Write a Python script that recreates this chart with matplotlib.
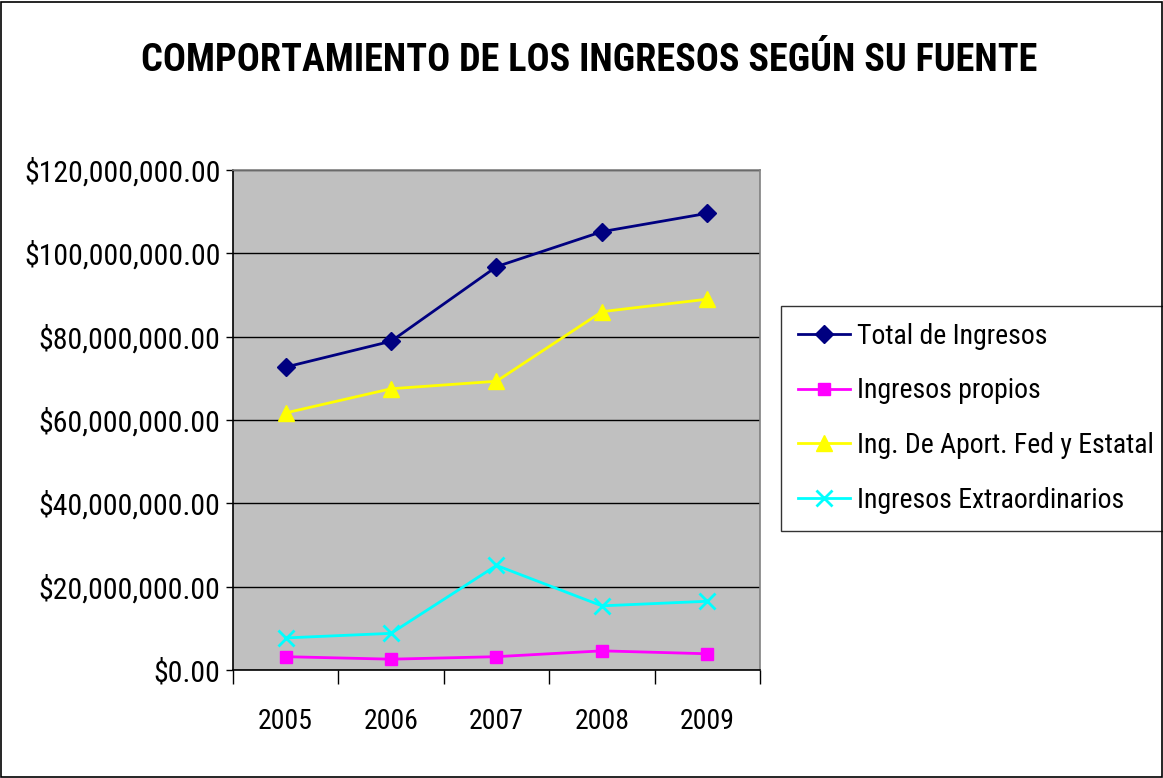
import matplotlib
matplotlib.use('Agg')
import matplotlib.pyplot as plt
from matplotlib.ticker import FuncFormatter, FixedLocator
from matplotlib.patches import Rectangle

years = ['2005', '2006', '2007', '2008', '2009']
total_ingresos = [72.7e6, 78.9e6, 96.8e6, 105.2e6, 109.6e6]
ingresos_propios = [3.2e6, 2.6e6, 3.2e6, 4.6e6, 3.9e6]
aport_fed_estatal = [61.7e6, 67.5e6, 69.3e6, 86.0e6, 89.0e6]
ingresos_extra = [7.7e6, 8.8e6, 25.1e6, 15.4e6, 16.5e6]

labels = ['Total de Ingresos', 'Ingresos propios',
          'Ing. De Aport. Fed y Estatal', 'Ingresos Extraordinarios']

# narrow face, close to the Arial Narrow of the original
plt.rcParams['font.family'] = ['Roboto Condensed', 'DejaVu Sans']

fig = plt.figure(figsize=(11.63, 7.78), dpi=100)
fig.patches.append(Rectangle((0.001, 0.001), 0.998, 0.997, transform=fig.transFigure,
                             fill=False, edgecolor='black', linewidth=1.2))

ax = fig.add_axes([0.2003, 0.1388, 0.4532, 0.6427])
ax.set_facecolor('#C0C0C0')

x = list(range(len(years)))
ax.plot(x, total_ingresos, color='#000080', marker='D', markersize=9, linewidth=2, label=labels[0])
ax.plot(x, ingresos_propios, color='#FF00FF', marker='s', markersize=9, linewidth=2, label=labels[1])
ax.plot(x, aport_fed_estatal, color='#FFFF00', marker='^', markersize=11, linewidth=2, label=labels[2])
ax.plot(x, ingresos_extra, color='#00FFFF', marker='x', markersize=11, markeredgewidth=2,
        linewidth=2, label=labels[3])

ax.set_xlim(-0.5, 4.5)
ax.set_ylim(0, 120e6)
ax.set_yticks([0, 20e6, 40e6, 60e6, 80e6, 100e6, 120e6])
ax.yaxis.set_major_formatter(FuncFormatter(lambda v, p: '${:,.2f}'.format(v)))
ax.grid(axis='y', color='black', linewidth=1)
ax.set_axisbelow(True)

ax.set_xticks(x)
ax.set_xticklabels(years)
ax.xaxis.set_minor_locator(FixedLocator([i - 0.5 for i in range(len(years) + 1)]))
ax.tick_params(axis='x', which='major', length=0, pad=27, labelsize=20)
ax.tick_params(axis='x', which='minor', length=10, width=1, color='black')
ax.tick_params(axis='y', length=5, width=1, labelsize=21.5, pad=4)

ax.spines['left'].set_color('black')
ax.spines['bottom'].set_color('black')
ax.spines['top'].set_color('#808080')
ax.spines['right'].set_color('#808080')
for s in ax.spines.values():
    s.set_linewidth(1.2)

fig.text(0.507, 0.922, 'COMPORTAMIENTO DE LOS INGRESOS SEGÚN SU FUENTE',
         ha='center', va='center', fontsize=27.5, fontweight='bold')

leg = ax.legend(loc='upper left', bbox_to_anchor=(0.6715, 0.6067),
                bbox_transform=fig.transFigure, fontsize=20, frameon=True,
                fancybox=False, edgecolor='black', handlelength=1.9,
                handletextpad=0.25, labelspacing=1.0, borderpad=0.6,
                borderaxespad=0)
leg.get_frame().set_linewidth(1)

fig.savefig('out.png', dpi=100)
